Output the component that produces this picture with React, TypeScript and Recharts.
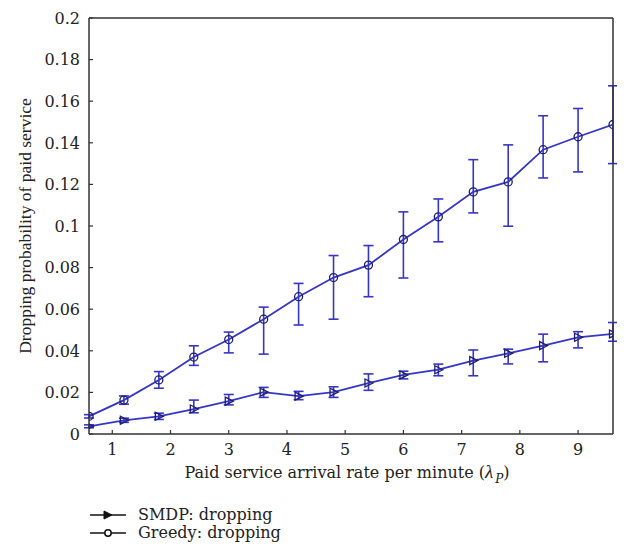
import React from "react";
import { ComposedChart, Line, XAxis, YAxis, ErrorBar } from "recharts";

const xValues = [0.6, 1.2, 1.8, 2.4, 3.0, 3.6, 4.2, 4.8, 5.4, 6.0, 6.6, 7.2, 7.8, 8.4, 9.0, 9.6];

const smdpMean = [0.0037, 0.0066, 0.0085, 0.012, 0.0158, 0.0201, 0.0182, 0.0201, 0.0245, 0.0284, 0.0309, 0.0353, 0.0388, 0.0425, 0.0465, 0.0481];
const smdpLow = [0.003, 0.0056, 0.007, 0.0102, 0.014, 0.0176, 0.0165, 0.0176, 0.021, 0.0265, 0.028, 0.028, 0.0337, 0.0347, 0.0414, 0.0446];
const smdpHigh = [0.0044, 0.0076, 0.01, 0.0163, 0.019, 0.0224, 0.0205, 0.0227, 0.0289, 0.0302, 0.0336, 0.0404, 0.0408, 0.048, 0.0492, 0.0536];

const greedyMean = [0.0085, 0.0163, 0.026, 0.037, 0.0454, 0.0552, 0.066, 0.0752, 0.0812, 0.0935, 0.1044, 0.1164, 0.1212, 0.1367, 0.1429, 0.1488];
const greedyLow = [0.0077, 0.0143, 0.022, 0.033, 0.039, 0.0384, 0.0524, 0.0552, 0.066, 0.075, 0.0924, 0.1063, 0.0999, 0.1231, 0.126, 0.13];
const greedyHigh = [0.0093, 0.0183, 0.03, 0.0424, 0.049, 0.061, 0.0724, 0.0858, 0.0906, 0.1068, 0.113, 0.1319, 0.139, 0.153, 0.1565, 0.1674];

const xTicks = [1, 2, 3, 4, 5, 6, 7, 8, 9];
const yTicks = [0, 0.02, 0.04, 0.06, 0.08, 0.1, 0.12, 0.14, 0.16, 0.18, 0.2];

const seriesNames = ["SMDP: dropping", "Greedy: dropping"];

const data = xValues.map((x, i) => ({
  x,
  smdp: smdpMean[i],
  smdpErr: [smdpMean[i] - smdpLow[i], smdpHigh[i] - smdpMean[i]],
  greedy: greedyMean[i],
  greedyErr: [greedyMean[i] - greedyLow[i], greedyHigh[i] - greedyMean[i]],
}));

const LINE = "#3636c6";
const MARK = "#1e1e6e";
const AXIS = "#333";
const FONT = "'DejaVu Serif', serif";
const TICK_LEN = 4;
const MARGIN_T = 9;

const fmtY = (v: number) => (v === 0 ? "0" : String(Number(v.toFixed(2))));

const XTick = (props: any) => {
  const { x, y, payload } = props;
  const axisY = y - MARGIN_T;
  return (
    <g>
      <line x1={x} x2={x} y1={axisY} y2={axisY - TICK_LEN} stroke={AXIS} strokeWidth={1.2} />
      <text x={x} y={y} dy="0.78em" textAnchor="middle" fill="#222" fontSize={16} fontFamily={FONT}>
        {payload.value}
      </text>
    </g>
  );
};

const YTick = (props: any) => {
  const { x, y, payload } = props;
  const axisX = x + MARGIN_T;
  return (
    <g>
      <line x1={axisX} x2={axisX + TICK_LEN} y1={y} y2={y} stroke={AXIS} strokeWidth={1.2} />
      <text x={x} y={y} dy="0.36em" textAnchor="end" fill="#222" fontSize={16} fontFamily={FONT}>
        {fmtY(payload.value)}
      </text>
    </g>
  );
};

const XTitle = (props: any) => {
  const vb = props.viewBox || {};
  const cx = vb.x + vb.width / 2 - 4;
  return (
    <text x={cx} y={vb.y + 44} textAnchor="middle" fill="#222" fontSize={16} fontFamily={FONT}>
      Paid service arrival rate per minute (
      <tspan fontStyle="italic" fontFamily="'Liberation Serif', serif" fontSize={19}>λ</tspan>
      <tspan fontStyle="italic" fontSize={12} dy={5} dx={2}>P</tspan>
      <tspan dy={-5}>)</tspan>
    </text>
  );
};

const YTitle = (props: any) => {
  const vb = props.viewBox || {};
  const cy = vb.y + vb.height / 2;
  const cx = 17;
  return (
    <text
      x={cx}
      y={cy}
      transform={`rotate(-90 ${cx} ${cy})`}
      textAnchor="middle"
      dy="0.35em"
      fill="#222"
      fontSize={17.5}
      fontFamily="'Liberation Serif', serif"
    >
      Dropping probability of paid service
    </text>
  );
};

const TriangleDot = (props: any) => {
  const { cx, cy, index } = props;
  if (cx == null || cy == null) return <g key={`t${index}`} />;
  return (
    <polygon
      key={`t${index}`}
      points={`${cx + 4.5},${cy} ${cx - 3.5},${cy - 4} ${cx - 3.5},${cy + 4}`}
      fill="none"
      stroke={MARK}
      strokeWidth={1.3}
    />
  );
};

const CircleDot = (props: any) => {
  const { cx, cy, index } = props;
  if (cx == null || cy == null) return <g key={`c${index}`} />;
  return <circle key={`c${index}`} cx={cx} cy={cy} r={4} fill="none" stroke={MARK} strokeWidth={1.3} />;
};

const LegendRow = ({ name, kind }: { name: string; kind: "tri" | "circ" }) => (
  <div style={{ display: "flex", alignItems: "center", height: 18 }}>
    <svg width={36} height={18} style={{ display: "block" }}>
      <line x1={0} x2={36} y1={9} y2={9} stroke="#111" strokeWidth={1.5} />
      {kind === "tri" ? (
        <polygon points="22,9 14,5 14,13" fill="#111" stroke="#111" strokeWidth={1} />
      ) : (
        <circle cx={18} cy={9} r={3.2} fill="#fff" stroke="#111" strokeWidth={1.5} />
      )}
    </svg>
    <span style={{ marginLeft: 12, fontFamily: FONT, fontSize: 16, color: "#222", lineHeight: "18px" }}>{name}</span>
  </div>
);

export default function App() {
  return (
    <div style={{ width: 610, background: "#fff" }}>
      <ComposedChart width={610} height={490} data={data} margin={{ top: 10, right: 5, bottom: 4, left: 0 }}>
        <XAxis
          dataKey="x"
          type="number"
          domain={[0.6, 9.6]}
          ticks={xTicks}
          allowDataOverflow
          height={60}
          tickSize={0}
          tickMargin={MARGIN_T}
          tick={<XTick />}
          axisLine={{ stroke: AXIS, strokeWidth: 1.5 }}
          label={<XTitle />}
        />
        <XAxis
          xAxisId="top"
          orientation="top"
          mirror
          dataKey="x"
          type="number"
          domain={[0.6, 9.6]}
          ticks={xTicks}
          allowDataOverflow
          tick={false}
          tickSize={TICK_LEN}
          tickLine={{ stroke: AXIS, strokeWidth: 1.2 }}
          axisLine={{ stroke: AXIS, strokeWidth: 1.5 }}
        />
        <YAxis
          type="number"
          domain={[0, 0.2]}
          ticks={yTicks}
          allowDataOverflow
          width={81}
          tickSize={0}
          tickMargin={MARGIN_T}
          tick={<YTick />}
          axisLine={{ stroke: AXIS, strokeWidth: 1.5 }}
          label={<YTitle />}
        />
        <YAxis
          yAxisId="right"
          orientation="right"
          mirror
          type="number"
          domain={[0, 0.2]}
          ticks={yTicks}
          allowDataOverflow
          tick={false}
          tickSize={TICK_LEN}
          tickLine={{ stroke: AXIS, strokeWidth: 1.2 }}
          axisLine={{ stroke: AXIS, strokeWidth: 1.5 }}
        />
        <Line
          dataKey="greedy"
          name={seriesNames[1]}
          stroke={LINE}
          strokeWidth={1.8}
          dot={<CircleDot />}
          activeDot={false}
          isAnimationActive={false}
        >
          <ErrorBar dataKey="greedyErr" width={5} stroke={LINE} strokeWidth={1.6} direction="y" isAnimationActive={false} />
        </Line>
        <Line
          dataKey="smdp"
          name={seriesNames[0]}
          stroke={LINE}
          strokeWidth={1.8}
          dot={<TriangleDot />}
          activeDot={false}
          isAnimationActive={false}
        >
          <ErrorBar dataKey="smdpErr" width={5} stroke={LINE} strokeWidth={1.6} direction="y" isAnimationActive={false} />
        </Line>
      </ComposedChart>
      <div style={{ marginTop: 8, paddingLeft: 82 }}>
        <LegendRow name={seriesNames[0]} kind="tri" />
        <LegendRow name={seriesNames[1]} kind="circ" />
      </div>
    </div>
  );
}
